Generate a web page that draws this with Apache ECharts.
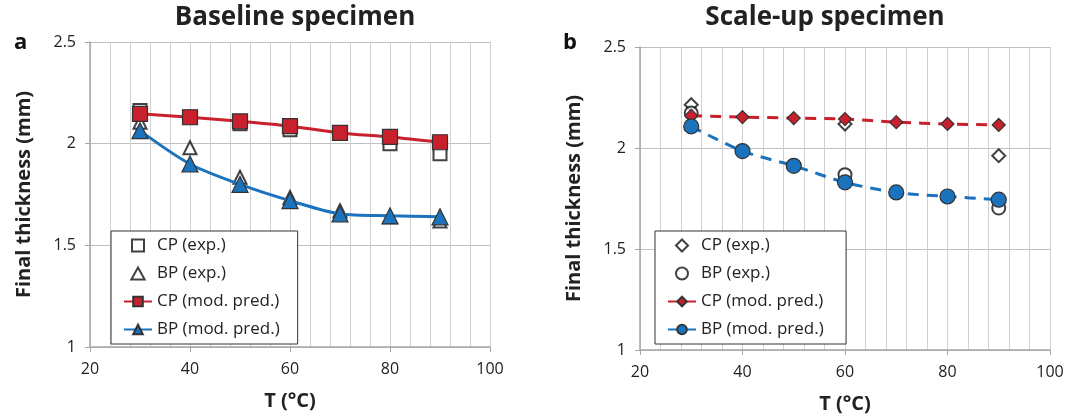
<!DOCTYPE html>
<html lang="en">
<head>
    <meta charset="UTF-8">
    <title>Final thickness</title>
	<style>
	body { margin: 0; background: #fff; }
	#chart { width: 1071px; height: 419px; }
	</style>
</head>
<body>
	<div id="chart"></div>
	<script src="https://cdn.jsdelivr.net/npm/echarts@6/dist/echarts.min.js"></script>
	<script>
	// temperatures (°C)
	var temps = [30, 40, 50, 60, 70, 80, 90];
	var scaleExpTemps = [30, 60, 90];

	// baseline specimen
	var baseCpExp = [2.163, 2.13, 2.098, 2.068, 2.053, 2.0, 1.95];
	var baseBpExp = [2.105, 1.98, 1.835, 1.735, 1.67, 1.64, 1.62];
	var baseCpMod = [2.147, 2.13, 2.11, 2.086, 2.053, 2.033, 2.007];
	var baseBpMod = [2.064, 1.90, 1.80, 1.72, 1.655, 1.645, 1.64];

	// scale-up specimen
	var scaleCpExp = [2.214, 2.119, 1.962];
	var scaleBpExp = [2.173, 1.868, 1.703];
	var scaleCpMod = [2.16, 2.153, 2.148, 2.143, 2.128, 2.119, 2.114];
	var scaleBpMod = [2.107, 1.985, 1.912, 1.83, 1.78, 1.76, 1.744];

	var yTicks = [1, 2.5, 0.5];   // min, max, interval
	var xTicks = [20, 100, 20];

	var FONT = 'Open Sans';
	var RED = '#c8202c', BLUE = '#1b72bd';

	// legend icons that keep their shape
	var ICON_SQUARE = 'path://M0,0H10V10H0Z';
	var ICON_TRI = 'path://M5,0L10,9L0,9Z';
	var ICON_DIAMOND = 'path://M5,0L10,5L5,10L0,5Z';

	function pairs(xs, ys) {
		return ys.map(function (v, i) { return [xs[i], v]; });
	}

	function xAxis(idx) {
		return {
			type: 'value', gridIndex: idx,
			min: xTicks[0], max: xTicks[1], interval: xTicks[2],
			name: 'T (°C)', nameLocation: 'middle', nameGap: 44,
			nameTextStyle: { fontFamily: FONT, fontSize: 20, fontWeight: 'bold', color: '#222' },
			axisLine: { lineStyle: { color: '#a6a6a6', width: 1.5 } },
			axisTick: { show: true, length: 5, lineStyle: { color: '#a6a6a6' } },
			minorTick: { show: false },
			axisLabel: { fontFamily: FONT, fontSize: 16, color: '#222', margin: 14 },
			splitLine: { show: true, lineStyle: { color: '#d0d0d0' } },
			minorSplitLine: { show: true, lineStyle: { color: '#d0d0d0' } }
		};
	}

	function yAxis(idx) {
		return {
			type: 'value', gridIndex: idx,
			min: yTicks[0], max: yTicks[1], interval: yTicks[2],
			name: 'Final thickness (mm)', nameLocation: 'middle', nameGap: 56,
			nameTextStyle: { fontFamily: FONT, fontSize: 20, fontWeight: 'bold', color: '#222' },
			axisLine: { show: true, lineStyle: { color: '#a6a6a6', width: 1.5 } },
			axisTick: { show: true, length: 5, lineStyle: { color: '#a6a6a6' } },
			axisLabel: { fontFamily: FONT, fontSize: 16, color: '#222', margin: 14 },
			splitLine: { show: true, lineStyle: { color: '#c0c0c0' } }
		};
	}

	function expSeries(name, idx, xs, ys, symbol, size) {
		return {
			name: name, type: 'scatter', xAxisIndex: idx, yAxisIndex: idx,
			symbol: symbol, symbolSize: size,
			itemStyle: { color: '#fff', borderColor: '#111', borderWidth: 2 },
			data: pairs(xs, ys)
		};
	}

	function modSeries(name, idx, ys, symbol, size, color, dashed) {
		return {
			name: name, type: 'line', xAxisIndex: idx, yAxisIndex: idx,
			symbol: symbol, symbolSize: size, smooth: 0.3,
			lineStyle: { color: color, width: 3, type: dashed ? [11, 8] : 'solid' },
			itemStyle: { color: color, borderColor: '#333', borderWidth: 1.2 },
			data: pairs(temps, ys)
		};
	}

	function legend(left, items) {
		return {
			orient: 'vertical', left: left, top: 231,
			data: items,
			backgroundColor: '#fff', borderColor: '#333', borderWidth: 1,
			padding: [6, 18, 6, 12],
			itemWidth: 28, itemHeight: 12, itemGap: 11,
			textStyle: { fontFamily: FONT, fontSize: 17, color: '#222' }
		};
	}

	var chart = echarts.init(document.getElementById('chart'));
	chart.setOption({
		animation: false,
		title: [
			{ text: 'Baseline specimen', left: 290, top: 0, textAlign: 'center',
			  textStyle: { fontFamily: FONT, fontSize: 26, fontWeight: 'bold', color: '#222' } },
			{ text: 'Scale-up specimen', left: 820, top: 0, textAlign: 'center',
			  textStyle: { fontFamily: FONT, fontSize: 26, fontWeight: 'bold', color: '#222' } },
			{ text: 'a', left: 9, top: 27,
			  textStyle: { fontFamily: FONT, fontSize: 22, fontWeight: 'bold', color: '#111' } },
			{ text: 'b', left: 558, top: 27,
			  textStyle: { fontFamily: FONT, fontSize: 22, fontWeight: 'bold', color: '#111' } }
		],
		grid: [
			{ left: 90, top: 42, width: 400, height: 305 },
			{ left: 640, top: 47, width: 410, height: 303 }
		],
		xAxis: [xAxis(0), xAxis(1)],
		yAxis: [yAxis(0), yAxis(1)],
		legend: [
			legend(111, [
				{ name: 'CP (exp.)', icon: ICON_SQUARE },
				{ name: 'BP (exp.)', icon: ICON_TRI },
				'CP (mod. pred.)', 'BP (mod. pred.)'
			]),
			legend(655, [
				{ name: 'CP (exp.) ', icon: ICON_DIAMOND },
				{ name: 'BP (exp.) ', icon: 'circle' },
				'CP (mod. pred.) ', 'BP (mod. pred.) '
			])
		],
		series: [
			expSeries('CP (exp.)', 0, temps, baseCpExp, 'rect', 13),
			expSeries('BP (exp.)', 0, temps, baseBpExp, 'triangle', 13),
			modSeries('CP (mod. pred.)', 0, baseCpMod, 'rect', 15, RED, false),
			modSeries('BP (mod. pred.)', 0, baseBpMod, 'triangle', 16, BLUE, false),
			expSeries('CP (exp.) ', 1, scaleExpTemps, scaleCpExp, 'diamond', 13),
			expSeries('BP (exp.) ', 1, scaleExpTemps, scaleBpExp, 'circle', 13),
			modSeries('CP (mod. pred.) ', 1, scaleCpMod, 'diamond', 13, RED, true),
			modSeries('BP (mod. pred.) ', 1, scaleBpMod, 'circle', 15, BLUE, true)
		]
	});
	</script>
</body>
</html>
